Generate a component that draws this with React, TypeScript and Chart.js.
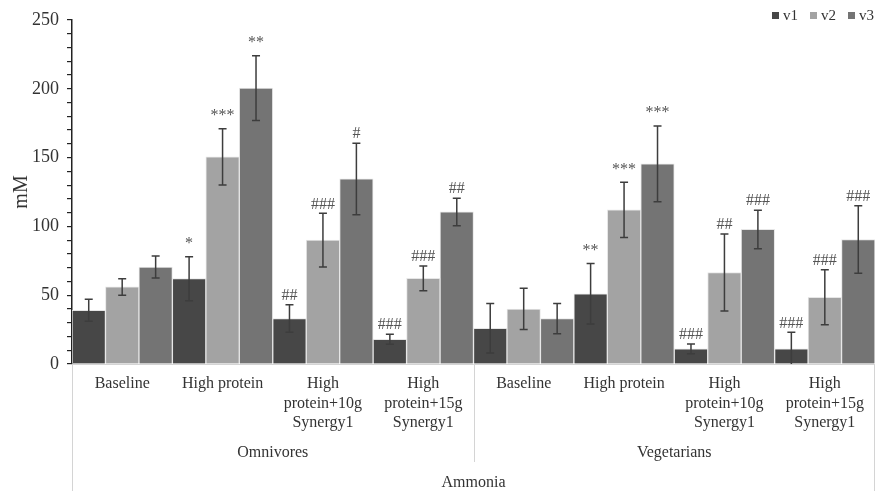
import React, { useEffect, useRef } from "react";
import { Chart, registerables } from "chart.js";

Chart.register(...registerables);

const categories: string[][] = [
  ["Baseline"],
  ["High protein"],
  ["High", "protein+10g", "Synergy1"],
  ["High", "protein+15g", "Synergy1"],
  ["Baseline"],
  ["High protein"],
  ["High", "protein+10g", "Synergy1"],
  ["High", "protein+15g", "Synergy1"],
];
const groups = ["Omnivores", "Vegetarians"];
const axisTitle = "Ammonia";
const seriesNames = ["v1", "v2", "v3"];

const v1 = [39, 62, 33, 18, 26, 51, 11, 11];
const v1Err = [8, 16, 10, 3.6, 18, 22, 3.5, 12];
const v1Sig = ["", "*", "##", "###", "", "**", "###", "###"];

const v2 = [56, 150.5, 90, 62.3, 40, 112, 66.5, 48.5];
const v2Err = [6, 20.5, 19.5, 9, 15, 20, 28, 20];
const v2Sig = ["", "***", "###", "###", "", "***", "##", "###"];

const v3 = [70.5, 200.5, 134.5, 110.5, 33, 145.5, 97.8, 90.5];
const v3Err = [8, 23.5, 26, 10, 11, 27.5, 14, 24.5];
const v3Sig = ["", "**", "#", "##", "", "***", "###", "###"];

const colors = ["#474747", "#a3a3a3", "#747474"];
const errs = [v1Err, v2Err, v3Err];
const sigs = [v1Sig, v2Sig, v3Sig];

const FONT = "'Liberation Serif', 'Times New Roman', serif";

const overlay = {
  id: "overlay",
  afterDatasetsDraw(chart: any) {
    const ctx = chart.ctx;
    const y = chart.scales.y;
    const area = chart.chartArea;
    ctx.save();
    // error bars + significance
    chart.data.datasets.forEach((ds: any, di: number) => {
      const meta = chart.getDatasetMeta(di);
      meta.data.forEach((el: any, i: number) => {
        const v = ds.data[i];
        const e = errs[di][i];
        const x = el.x;
        const top = y.getPixelForValue(v + e);
        const bot = Math.min(y.getPixelForValue(Math.max(v - e, 0)), area.bottom);
        ctx.strokeStyle = "#3d3d3d";
        ctx.lineWidth = 1.5;
        ctx.beginPath();
        ctx.moveTo(x, top);
        ctx.lineTo(x, bot);
        ctx.moveTo(x - 4, top);
        ctx.lineTo(x + 4, top);
        if (v - e > 0) {
          ctx.moveTo(x - 4, bot);
          ctx.lineTo(x + 4, bot);
        }
        ctx.stroke();
        const s = sigs[di][i];
        if (s) {
          const star = s.indexOf("*") >= 0;
          ctx.fillStyle = "#555555";
          ctx.textAlign = "center";
          ctx.textBaseline = "middle";
          if (star) {
            ctx.font = `16px ${FONT}`;
            const pitch = 8;
            const n = s.length;
            for (let k = 0; k < n; k++) {
              ctx.fillText("*", x + (k - (n - 1) / 2) * pitch, top - 13);
            }
          } else {
            ctx.font = `16px ${FONT}`;
            ctx.fillText(s, x, top - 9);
          }
        }
      });
    });

    // x axis & category labels
    const left = area.left;
    const right = area.right;
    const bottom = area.bottom;
    const H = chart.height;
    ctx.strokeStyle = "#d4d4d4";
    ctx.lineWidth = 1;
    ctx.beginPath();
    ctx.moveTo(left, bottom + 0.5);
    ctx.lineTo(right, bottom + 0.5);
    const mid = (left + right) / 2;
    ctx.moveTo(Math.round(left) + 0.5, bottom);
    ctx.lineTo(Math.round(left) + 0.5, H);
    ctx.moveTo(Math.round(mid) + 0.5, bottom);
    ctx.lineTo(Math.round(mid) + 0.5, bottom + 98);
    ctx.moveTo(Math.round(right) - 0.5, bottom);
    ctx.lineTo(Math.round(right) - 0.5, H);
    ctx.stroke();

    const xs = chart.scales.x;
    ctx.fillStyle = "#333333";
    ctx.textAlign = "center";
    ctx.textBaseline = "middle";
    ctx.font = `16px ${FONT}`;
    categories.forEach((lines, i) => {
      const cx = xs.getPixelForValue(i);
      lines.forEach((ln, li) => {
        ctx.fillText(ln, cx, bottom + 20 + li * 19.5);
      });
    });
    groups.forEach((g, gi) => {
      const cx = left + (right - left) * (gi * 2 + 1) / 4;
      ctx.fillText(g, cx, bottom + 89);
    });
    ctx.fillText(axisTitle, mid, bottom + 119);

    // legend
    ctx.font = `15px ${FONT}`;
    ctx.textAlign = "left";
    let lx = 772;
    seriesNames.forEach((n, i) => {
      ctx.fillStyle = colors[i];
      ctx.fillRect(lx, 12, 7, 7);
      ctx.fillStyle = "#333333";
      ctx.fillText(n, lx + 11, 16);
      lx += 11 + ctx.measureText(n).width + 12;
    });
    ctx.restore();
  },
};

export default function App() {
  const ref = useRef<HTMLCanvasElement | null>(null);
  useEffect(() => {
    if (!ref.current) return;
    const chart = new Chart(ref.current, {
      type: "bar",
      data: {
        labels: categories.map((c) => c.join(" ")),
        datasets: [v1, v2, v3].map((d, i) => ({
          label: seriesNames[i],
          data: d,
          backgroundColor: colors[i],
          borderColor: "#e6e6e6",
          borderWidth: 1,
          barPercentage: 1,
          categoryPercentage: 1,
        })),
      },
      options: {
        responsive: false,
        animation: false,
        events: [],
        layout: { padding: { top: 20, bottom: 127, left: 0, right: 1 } },
        plugins: { legend: { display: false }, tooltip: { enabled: false } },
        scales: {
          x: { display: false },
          y: {
            min: 0,
            max: 250,
            afterFit: (s: any) => {
              s.width = 72;
            },
            border: { display: true, color: "#222222", width: 1.5 },
            grid: { drawOnChartArea: false, tickLength: 5, color: "#222222", lineWidth: 1.2 },
            ticks: {
              stepSize: 10,
              autoSkip: false,
              padding: 8,
              color: "#333333",
              font: { family: FONT, size: 18 },
              callback: (v: any) => (Number(v) % 50 === 0 ? String(v) : ""),
            },
            title: {
              display: true,
              text: "mM",
              color: "#333333",
              font: { family: FONT, size: 20 },
              padding: { top: 10, bottom: 0 },
            },
          },
        },
      },
      plugins: [overlay],
    });
    return () => chart.destroy();
  }, []);
  return (
    <div style={{ position: "fixed", left: 0, top: 0, width: 876, height: 491, background: "#fff" }}>
      <canvas ref={ref} width={876} height={491} />
    </div>
  );
}
